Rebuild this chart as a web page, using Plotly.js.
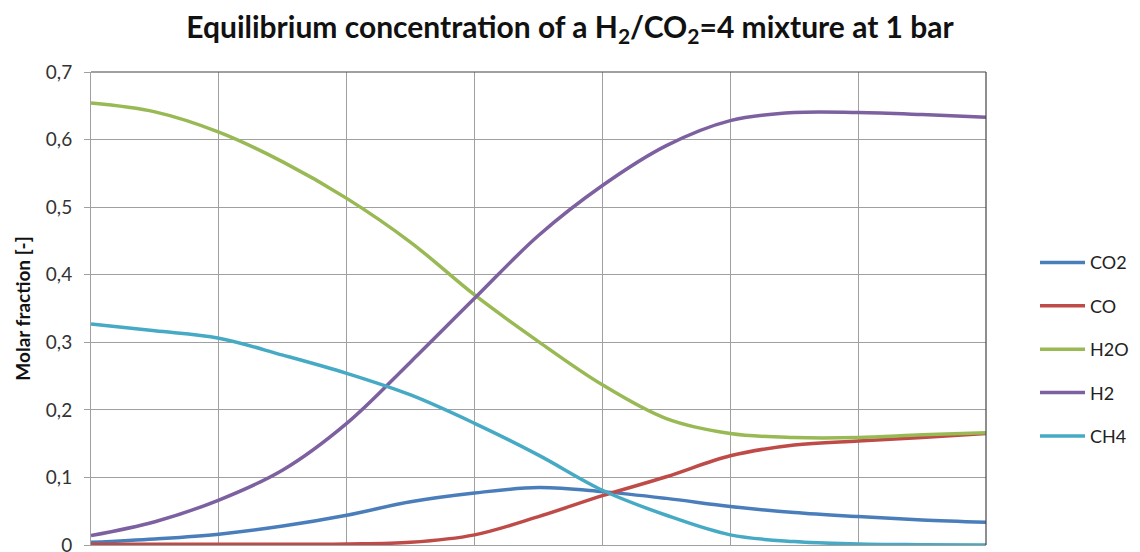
<!DOCTYPE html>
<html>
<head>
<meta charset="utf-8">
<script src="https://cdn.plot.ly/plotly-3.0.1.min.js"></script>
<style>html,body{margin:0;padding:0;background:#fff;}#chart{width:1140px;height:552px;}</style>
</head>
<body>
<div id="chart"></div>
<script>
// x positions along the (unlabelled) horizontal axis, in grid divisions
const xSteps = [0, 0.5, 1, 1.5, 2, 2.5, 3, 3.5, 4, 4.5, 5, 5.5, 6, 6.5, 7];
const seriesNames = ['CO2', 'CO', 'H2O', 'H2', 'CH4'];
const co2 = [0.004, 0.009, 0.016, 0.028, 0.044, 0.064, 0.077, 0.085, 0.079, 0.069, 0.057, 0.048, 0.042, 0.037, 0.0335];
const co  = [0.001, 0.001, 0.001, 0.001, 0.0015, 0.004, 0.015, 0.042, 0.073, 0.101, 0.132, 0.148, 0.154, 0.159, 0.165];
const h2o = [0.654, 0.641, 0.611, 0.567, 0.513, 0.448, 0.370, 0.301, 0.237, 0.187, 0.165, 0.159, 0.159, 0.163, 0.166];
const h2  = [0.014, 0.0345, 0.0665, 0.111, 0.180, 0.271, 0.365, 0.458, 0.532, 0.591, 0.628, 0.640, 0.640, 0.637, 0.633];
const ch4 = [0.327, 0.317, 0.306, 0.281, 0.254, 0.222, 0.180, 0.133, 0.081, 0.044, 0.015, 0.005, 0.0015, 0.0005, 0];
const yTickVals = [0, 0.1, 0.2, 0.3, 0.4, 0.5, 0.6, 0.7];
const yTickText = ['0', '0,1', '0,2', '0,3', '0,4', '0,5', '0,6', '0,7'];
const xGridVals = [0, 1, 2, 3, 4, 5, 6, 7];

const colors = ['#4a7ebb', '#be4b48', '#98b954', '#7d60a0', '#46aac5'];
const allSeries = [co2, co, h2o, h2, ch4];

const traces = allSeries.map((ys, i) => ({
  type: 'scatter',
  mode: 'lines',
  x: xSteps,
  y: ys,
  name: seriesNames[i],
  legendgroup: 'g' + i,
  line: {color: colors[i], width: 3.5, shape: 'spline', smoothing: 1},
  hoverinfo: 'skip'
}));

const layout = {
  width: 1140,
  height: 552,
  margin: {l: 91, r: 154, t: 72, b: 7},
  paper_bgcolor: '#ffffff',
  plot_bgcolor: '#ffffff',
  font: {family: 'Lato, "Open Sans", sans-serif', color: '#222'},
  title: {
    text: 'Equilibrium concentration of a H<sub>2</sub>/CO<sub>2</sub>=4 mixture at 1 bar',
    font: {family: 'Lato, "Open Sans", sans-serif', size: 30, color: '#111', weight: 'bold'},
    x: 0.5, xanchor: 'center', xref: 'container',
    y: 0.95, yanchor: 'middle', yref: 'container'
  },
  xaxis: {
    range: [0, 7],
    tickvals: xGridVals,
    showticklabels: false,
    ticks: '',
    showgrid: true,
    gridcolor: '#a0a0a0',
    gridwidth: 1,
    zeroline: false,
    showline: true,
    linecolor: '#a0a0a0',
    linewidth: 1,
    fixedrange: true
  },
  yaxis: {
    range: [0, 0.7],
    tickvals: yTickVals,
    ticktext: yTickText,
    ticks: 'outside',
    ticklen: 6,
    tickcolor: '#a0a0a0',
    ticklabelstandoff: 8,
    ticklabeloverflow: 'allow',
    tickfont: {size: 19, color: '#333'},
    showgrid: true,
    gridcolor: '#a0a0a0',
    gridwidth: 1,
    zeroline: false,
    showline: true,
    linecolor: '#a0a0a0',
    linewidth: 1,
    title: {text: 'Molar fraction [-]', font: {size: 19, color: '#111', weight: 'bold'}, standoff: 10},
    fixedrange: true
  },
  legend: {
    x: 1035 / 1140, xref: 'container', xanchor: 'left',
    y: 0.414, yanchor: 'middle',
    traceorder: 'grouped',
    tracegroupgap: 17,
    itemwidth: 45,
    font: {size: 18, color: '#222'},
    bgcolor: 'rgba(0,0,0,0)'
  },
  showlegend: true,
  shapes: [
    {type: 'line', xref: 'paper', yref: 'paper', x0: 0, x1: 1, y0: 1, y1: 1, line: {color: '#444', width: 1.2}},
    {type: 'line', xref: 'paper', yref: 'paper', x0: 1, x1: 1, y0: 0, y1: 1, line: {color: '#444', width: 1.2}}
  ]
};

Plotly.newPlot('chart', traces, layout, {displayModeBar: false, staticPlot: true});
</script>
</body>
</html>
